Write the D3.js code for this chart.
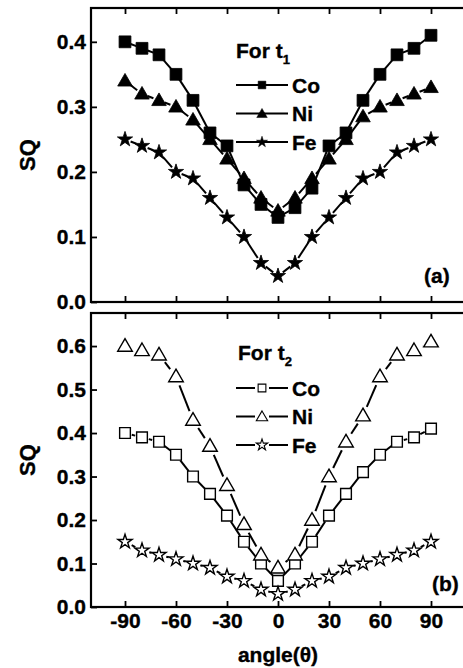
<!DOCTYPE html>
<html><head><meta charset="utf-8">
<script src="https://cdn.jsdelivr.net/npm/d3@7"></script>
<style>
html,body{margin:0;padding:0;background:#fff;}
svg text{font-family:"Liberation Sans",Arial,sans-serif;font-weight:bold;fill:#000;stroke:#000;stroke-width:0.35px;}
</style></head>
<body>
<svg id="c" width="463" height="668"></svg>
<script>
const angles = [-90,-80,-70,-60,-50,-40,-30,-20,-10,0,10,20,30,40,50,60,70,80,90];
// Panel (a): t1
const coT1 = [0.40,0.39,0.38,0.35,0.31,0.26,0.24,0.18,0.15,0.13,0.145,0.175,0.24,0.26,0.31,0.35,0.38,0.39,0.41];
const niT1 = [0.34,0.32,0.31,0.30,0.28,0.25,0.22,0.19,0.16,0.14,0.16,0.19,0.22,0.25,0.285,0.30,0.31,0.32,0.33];
const feT1 = [0.25,0.24,0.23,0.20,0.19,0.16,0.13,0.10,0.06,0.04,0.06,0.10,0.13,0.16,0.19,0.20,0.23,0.24,0.25];
// Panel (b): t2
const coT2 = [0.40,0.39,0.38,0.35,0.30,0.26,0.21,0.15,0.10,0.06,0.10,0.15,0.21,0.26,0.31,0.35,0.38,0.39,0.41];
const niT2 = [0.60,0.59,0.58,0.53,0.43,0.37,0.28,0.19,0.12,0.09,0.12,0.20,0.30,0.38,0.44,0.53,0.58,0.59,0.61];
const feT2 = [0.15,0.13,0.12,0.11,0.10,0.09,0.07,0.06,0.04,0.03,0.04,0.06,0.07,0.09,0.10,0.11,0.12,0.13,0.15];
const xTicks = [-90,-60,-30,0,30,60,90];
const yTicksA = [0,0.1,0.2,0.3,0.4];
const yTicksB = [0,0.1,0.2,0.3,0.4,0.5,0.6];
const seriesNames = ["Co","Ni","Fe"];

const svg = d3.select("#c");
const x = d3.scaleLinear().domain([-110,110]).range([91,465]);
const yA = d3.scaleLinear().domain([0,0.452]).range([302,8]);
const yB = d3.scaleLinear().domain([0,0.676]).range([607,313]);

const FS = 21;

function panel(y, yTicks, showX){
  const g = svg.append("g");
  const [x0,x1] = x.range();
  const [yb,yt] = y.range();
  const ax = d3.axisLeft(y).tickValues(yTicks).tickSize(-6).tickPadding(5).tickFormat(d=>d.toFixed(1));
  const gl = g.append("g").attr("transform",`translate(${x0},0)`).call(ax);
  const bx = d3.axisBottom(x).tickValues(xTicks).tickSize(-6).tickPadding(6).tickFormat(d=>String(d));
  const gb = g.append("g").attr("transform",`translate(0,${yb})`).call(bx);
  if(!showX) gb.selectAll("text").remove();
  const tx = d3.axisTop(x).tickValues(xTicks).tickSize(-6).tickFormat("");
  const gt = g.append("g").attr("transform",`translate(0,${yt})`).call(tx);
  [gl,gb,gt].forEach(a=>{
    a.selectAll(".domain").remove();
    a.selectAll("line").attr("stroke","#000").attr("stroke-width",1.8);
    a.selectAll("text").attr("font-size",FS).attr("font-family","Liberation Sans, Arial, sans-serif")
      .attr("font-weight","bold").attr("fill","#000").attr("stroke","#000").attr("stroke-width",0.35);
  });
  g.append("rect").attr("x",x0).attr("y",yt).attr("width",x1-x0).attr("height",yb-yt)
    .attr("fill","none").attr("stroke","#000").attr("stroke-width",2.2);
  return g;
}

function gappedLine(g, y, vals, gap, width){
  for(let i=0;i<vals.length-1;i++){
    const ax_=x(angles[i]), ay=y(vals[i]), bx_=x(angles[i+1]), by=y(vals[i+1]);
    const dx=bx_-ax_, dy=by-ay, L=Math.hypot(dx,dy);
    if(L<=2*gap) continue;
    const ux=dx/L, uy=dy/L;
    g.append("line").attr("x1",ax_+ux*gap).attr("y1",ay+uy*gap)
      .attr("x2",bx_-ux*gap).attr("y2",by-uy*gap)
      .attr("stroke","#000").attr("stroke-width",width);
  }
}

const symType = {Co:d3.symbolSquare, Ni:d3.symbolTriangle, Fe:d3.symbolStar};

function markers(g, y, vals, name, size, filled){
  const sym = d3.symbol().type(symType[name]).size(size);
  g.selectAll(null).data(vals).enter().append("path")
    .attr("d",sym)
    .attr("transform",(d,i)=>`translate(${x(angles[i])},${y(d) + (name==="Ni"?1:0)})`)
    .attr("fill",filled?"#000":"#fff")
    .attr("stroke","#000").attr("stroke-width",filled?0.8:1.4);
}

// Panel (a)
const gA = panel(yA, yTicksA, false);
const dataA = {Co:coT1, Ni:niT1, Fe:feT1};
const sizeA = {Co:140, Ni:92, Fe:72};
const gapA = {Co:6, Ni:6, Fe:6};
seriesNames.forEach(n=>gappedLine(gA, yA, dataA[n], gapA[n], 2));
seriesNames.forEach(n=>markers(gA, yA, dataA[n], n, sizeA[n], true));

// Panel (b)
const gB = panel(yB, yTicksB, true);
const dataB = {Co:coT2, Ni:niT2, Fe:feT2};
const sizeB = {Co:115, Ni:92, Fe:62};
const gapB = {Co:7, Ni:9.5, Fe:7.5};
seriesNames.forEach(n=>gappedLine(gB, yB, dataB[n], gapB[n], 2));
seriesNames.forEach(n=>markers(gB, yB, dataB[n], n, sizeB[n], false));

// Legends
function legend(titleSub, tx, ty, rowY0, filled){
  const t = svg.append("text").attr("x",tx).attr("y",ty).attr("font-size",FS);
  t.append("tspan").text("For t");
  t.append("tspan").attr("font-size",13).attr("dy",6).text(titleSub);
  const lsz = filled ? {Co:60,Ni:48,Fe:38} : {Co:60,Ni:56,Fe:40};
  seriesNames.forEach((n,i)=>{
    const yy = rowY0 + i*28.5;
    svg.append("line").attr("x1",236).attr("x2",288).attr("y1",yy).attr("y2",yy)
      .attr("stroke","#000").attr("stroke-width",2);
    if(!filled){
      svg.append("rect").attr("x",255).attr("y",yy-6).attr("width",14).attr("height",12).attr("fill","#fff");
    }
    svg.append("path").attr("d",d3.symbol().type(symType[n]).size(lsz[n]))
      .attr("transform",`translate(262,${yy + (n==="Ni"?1:0)})`)
      .attr("fill",filled?"#000":"#fff").attr("stroke","#000").attr("stroke-width",filled?0.5:1.1);
    svg.append("text").attr("x",292).attr("y",yy).attr("dy","0.36em").attr("font-size",FS).text(n);
  });
}
legend("1", 236, 58, 85, true);
legend("2", 238, 360, 388, false);

svg.append("text").attr("x",424).attr("y",283).attr("font-size",FS).text("(a)");
svg.append("text").attr("x",432).attr("y",591).attr("font-size",FS).text("(b)");

svg.append("text").attr("transform",`translate(35,${(yA.range()[0]+yA.range()[1])/2}) rotate(-90)`)
  .attr("text-anchor","middle").attr("font-size",22).text("SQ");
svg.append("text").attr("transform",`translate(35,${(yB.range()[0]+yB.range()[1])/2}) rotate(-90)`)
  .attr("text-anchor","middle").attr("font-size",22).text("SQ");
svg.append("text").attr("x",278).attr("y",662).attr("text-anchor","middle").attr("font-size",FS).text("angle(θ)");
</script>
</body></html>
